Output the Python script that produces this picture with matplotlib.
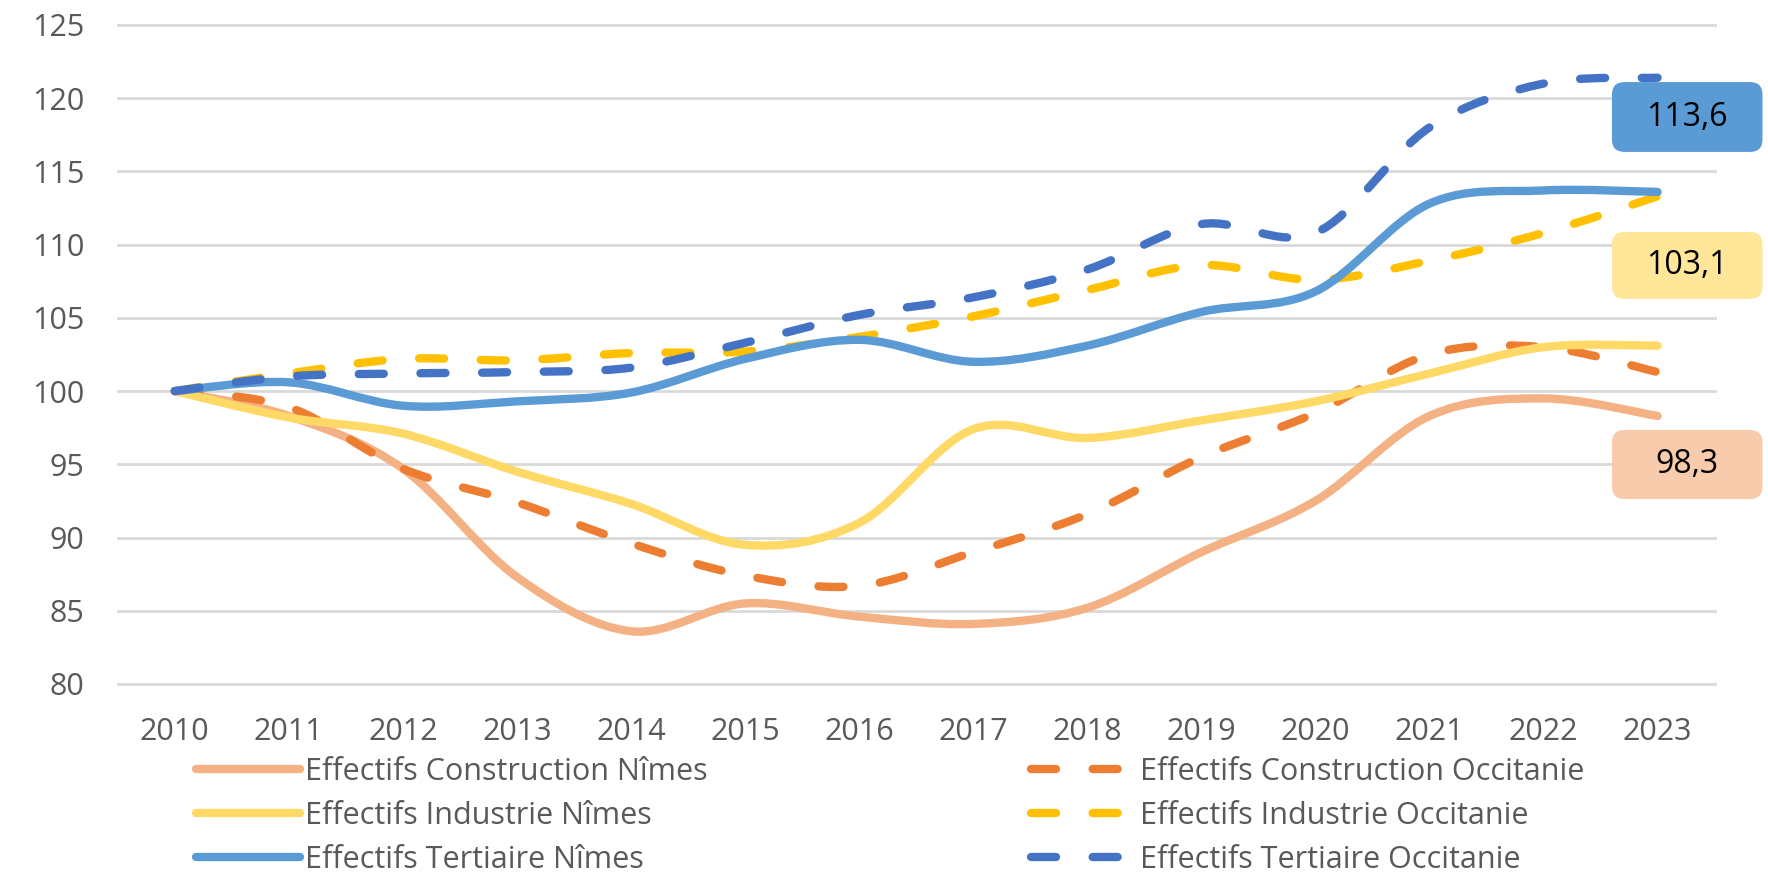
import numpy as np
import matplotlib.pyplot as plt
from matplotlib.path import Path
from matplotlib.patches import PathPatch, FancyBboxPatch
from matplotlib.lines import Line2D

plt.rcParams['font.family'] = ['Open Sans', 'DejaVu Sans']

years = [str(y) for y in range(2010, 2024)]

constr_nimes = [100, 98.3, 94.7, 87.3, 83.6, 85.5, 84.6, 84.1, 85.2, 89.0, 92.5, 98.3, 99.5, 98.3]
constr_occ = [100, 98.9, 94.7, 92.4, 89.6, 87.4, 86.7, 89.0, 91.6, 95.5, 98.5, 102.5, 103.0, 101.3]
indus_nimes = [100, 98.2, 97.1, 94.5, 92.3, 89.5, 91.0, 97.4, 96.8, 98.0, 99.3, 101.2, 103.0, 103.1]
indus_occ = [100, 101.2, 102.2, 102.1, 102.6, 102.7, 103.7, 105.1, 106.9, 108.6, 107.6, 108.9, 110.8, 113.3]
tert_nimes = [100, 100.6, 99.0, 99.3, 99.9, 102.2, 103.5, 102.0, 103.1, 105.4, 106.8, 112.8, 113.7, 113.6]
tert_occ = [100, 101.0, 101.2, 101.3, 101.6, 103.3, 105.2, 106.4, 108.3, 111.4, 110.8, 118.0, 121.0, 121.4]

names = ['Effectifs Construction Nîmes', 'Effectifs Construction Occitanie',
         'Effectifs Industrie Nîmes', 'Effectifs Industrie Occitanie',
         'Effectifs Tertiaire Nîmes', 'Effectifs Tertiaire Occitanie']
series = [constr_nimes, constr_occ, indus_nimes, indus_occ, tert_nimes, tert_occ]
colors = ['#F4B183', '#ED7D31', '#FFD966', '#FFC000', '#5B9BD5', '#4472C4']
dashed = [False, True, False, True, False, True]


def smooth_path(xs, ys):
    # Excel-like smoothed line: cubic bezier through every point
    pts = np.column_stack([xs, ys]).astype(float)
    n = len(pts)
    verts = [pts[0]]
    codes = [Path.MOVETO]
    for i in range(n - 1):
        p0 = pts[max(i - 1, 0)]
        p1 = pts[i]
        p2 = pts[i + 1]
        p3 = pts[min(i + 2, n - 1)]
        verts += [p1 + (p2 - p0) / 6, p2 - (p3 - p1) / 6, p2]
        codes += [Path.CURVE4] * 3
    return Path(verts, codes)


fig = plt.figure(figsize=(17.68, 8.76), dpi=100)
ax = fig.add_axes([0.0666, 0.2192, 0.9032, 0.7523])

lw = 6
dash = (0, (3.0, 4.4))
x = np.arange(len(years))
handles = []
for vals, name, col, d in zip(series, names, colors, dashed):
    ls = dash if d else 'solid'
    patch = PathPatch(smooth_path(x, vals), fill=False, edgecolor=col, lw=lw,
                      linestyle=ls, capstyle='round', joinstyle='round', zorder=3)
    ax.add_patch(patch)
    handles.append(Line2D([], [], color=col, lw=lw, linestyle=ls,
                          dash_capstyle='round', solid_capstyle='round', label=name))

ax.set_xlim(-0.5, len(years) - 0.5)
ax.set_ylim(80, 125)
ax.set_xticks(x)
ax.set_xticklabels(years)
ax.set_yticks(np.arange(80, 126, 5))
ax.tick_params(length=0, labelsize=22, colors='#595959')
ax.tick_params(axis='y', pad=24)
ax.tick_params(axis='x', pad=24)
for s in ax.spines.values():
    s.set_visible(False)
ax.yaxis.grid(True, color='#D9D9D9', lw=2)
for gl in ax.get_ygridlines():
    gl.set_clip_on(False)
ax.set_axisbelow(True)

# value labels for the Nîmes series at 2023
label_boxes = [
    (tert_nimes[-1], '#5B9BD5', 116.33, 121.1),
    (indus_nimes[-1], '#FFE699', 106.29, 110.87),
    (constr_nimes[-1], '#F8CBAD', 92.63, 97.35),
]
bx0, bx1 = 12.60, 13.92
for val, fc, y0, y1 in label_boxes:
    box = FancyBboxPatch((bx0, y0), bx1 - bx0, y1 - y0,
                         boxstyle='round,pad=0,rounding_size=0.11',
                         mutation_aspect=7.8, fc=fc, ec='none',
                         clip_on=False, zorder=5)
    ax.add_patch(box)
    ax.text((bx0 + bx1) / 2, (y0 + y1) / 2, f'{val:.1f}'.replace('.', ','),
            ha='center', va='center', fontsize=23, color='#000000', zorder=6)

order = [0, 2, 4, 1, 3, 5]
fig.legend([handles[i] for i in order], [names[i] for i in order],
           ncol=2, loc='upper left', bbox_to_anchor=(0.111, 0.136),
           frameon=False, fontsize=22, labelcolor='#595959',
           handlelength=3.4, handletextpad=0.15, columnspacing=10.6,
           labelspacing=0.46, borderpad=0, borderaxespad=0)

fig.savefig('out.png', dpi=100)
